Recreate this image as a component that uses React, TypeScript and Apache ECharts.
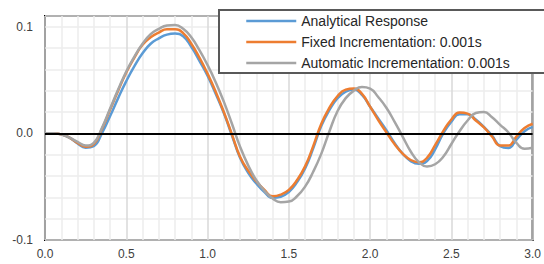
import React, { useEffect, useRef } from "react";
import * as echarts from "echarts";

const times: number[] = [
  0.0, 0.05, 0.1, 0.15, 0.2, 0.25, 0.3, 0.35, 0.4, 0.45, 0.5, 0.55, 0.6, 0.65, 0.7, 0.75, 0.8, 0.85, 0.9, 0.95,
  1.0, 1.05, 1.1, 1.15, 1.2, 1.25, 1.3, 1.35, 1.4, 1.45, 1.5, 1.55, 1.6, 1.65, 1.7, 1.75, 1.8, 1.85, 1.9, 1.95,
  2.0, 2.05, 2.1, 2.15, 2.2, 2.25, 2.3, 2.35, 2.4, 2.45, 2.5, 2.55, 2.6, 2.65, 2.7, 2.75, 2.8, 2.85, 2.9, 2.95, 3.0,
];

const analytical: number[] = [
  0, 0, -0.001, -0.004, -0.0095, -0.0135, -0.012, 0.0, 0.016, 0.033, 0.049, 0.063, 0.075, 0.084, 0.089, 0.0925, 0.0935, 0.091, 0.081, 0.068,
  0.054, 0.037, 0.019, -0.002, -0.023, -0.037, -0.047, -0.055, -0.0605, -0.0595, -0.055, -0.046, -0.033, -0.014, 0.007, 0.022, 0.033, 0.039, 0.041, 0.036,
  0.025, 0.014, 0.003, -0.009, -0.019, -0.026, -0.0285, -0.026, -0.015, 0.0, 0.011, 0.018, 0.018, 0.013, 0.006, -0.002, -0.012, -0.0138, -0.006, 0.002, 0.006,
];

const fixedInc: number[] = [
  0, 0, -0.001, -0.004, -0.009, -0.0125, -0.01, 0.004, 0.022, 0.04, 0.057, 0.071, 0.083, 0.09, 0.0945, 0.0975, 0.0975, 0.094, 0.084, 0.071,
  0.056, 0.039, 0.02, -0.001, -0.022, -0.035, -0.045, -0.053, -0.059, -0.0575, -0.053, -0.044, -0.031, -0.012, 0.009, 0.024, 0.035, 0.041, 0.042, 0.037,
  0.025, 0.0125, 0.001, -0.01, -0.019, -0.025, -0.027, -0.023, -0.011, 0.002, 0.013, 0.0195, 0.0185, 0.012, 0.0055, -0.003, -0.0115, -0.0115, -0.003, 0.005, 0.009,
];

const autoInc: number[] = [
  0, 0, -0.001, -0.004, -0.008, -0.0115, -0.009, 0.005, 0.023, 0.041, 0.058, 0.072, 0.084, 0.093, 0.098, 0.101, 0.1015, 0.098, 0.09, 0.078,
  0.064, 0.048, 0.0297, 0.009, -0.0125, -0.03, -0.044, -0.054, -0.061, -0.0645, -0.064, -0.059, -0.05, -0.036, -0.019, 0.002, 0.021, 0.033, 0.04, 0.0435,
  0.042, 0.034, 0.024, 0.011, -0.003, -0.017, -0.027, -0.031, -0.029, -0.022, -0.01, 0.002, 0.012, 0.019, 0.02, 0.015, 0.008, 0.001, -0.009, -0.0145, -0.0135,
];

const seriesNames: string[] = [
  "Analytical Response",
  "Fixed Incrementation: 0.001s",
  "Automatic Incrementation: 0.001s",
];

const FONT = "'Liberation Sans', Arial, sans-serif";

export default function App() {
  const ref = useRef<HTMLDivElement>(null);
  useEffect(() => {
    if (!ref.current) return;
    const chart = echarts.init(ref.current, undefined, { renderer: "svg" });
    const pair = (ys: number[]) => times.map((t, i) => [t, ys[i]]);
    const colors = ["#5B9BD5", "#ED7D31", "#A5A5A5"];
    const datasets = [analytical, fixedInc, autoInc];
    chart.setOption({
      animation: false,
      textStyle: { fontFamily: FONT },
      grid: {
        left: 45,
        right: 11,
        top: 16,
        bottom: 24,
        show: true,
        borderColor: "#000",
        borderWidth: 2,
        backgroundColor: "transparent",
      },
      graphic: [
        {
          type: "rect",
          z: 50,
          shape: { x: 219, y: 10, width: 340, height: 63 },
          style: { fill: "#fff", stroke: "#595959", lineWidth: 2 },
          silent: true,
        },
      ],
      legend: {
        data: seriesNames,
        orient: "vertical",
        left: 219,
        top: 10,
        z: 60,
        itemWidth: 50,
        itemHeight: 14,
        itemGap: 7,
        selectedMode: false,
        padding: [4, 10, 3, 26],
        itemStyle: { opacity: 0 },
        lineStyle: { width: 2.5 },
        textStyle: { fontSize: 14, color: "#262626", fontFamily: FONT },
      },
      xAxis: {
        type: "value",
        min: 0,
        max: 3,
        interval: 0.5,
        axisLine: { show: false },
        axisTick: { show: false },
        axisLabel: {
          formatter: (v: number) => v.toFixed(1),
          fontSize: 12,
          color: "#404040",
          margin: 8,
          fontFamily: FONT,
        },
        splitLine: { show: true, lineStyle: { color: "#d9d9d9", width: 1.5 } },
        minorTick: { show: false, splitNumber: 5 },
        minorSplitLine: { show: true, lineStyle: { color: "#ededed", width: 1.5 } },
      },
      yAxis: {
        type: "value",
        min: -0.1,
        max: 0.11,
        interval: 0.02,
        axisLine: { show: false },
        axisTick: { show: false },
        axisLabel: {
          formatter: (v: number) => {
            const r = Math.round(v * 10);
            return Math.abs(v * 10 - r) < 1e-6 ? (r / 10).toFixed(1) : "";
          },
          fontSize: 12,
          color: "#404040",
          margin: 12,
          fontFamily: FONT,
        },
        splitLine: { show: true, lineStyle: { color: "#ededed", width: 1.5 } },
      },
      series: [
        {
          name: "zero",
          type: "line",
          data: [],
          z: 1,
          silent: true,
          markLine: {
            silent: true,
            symbol: "none",
            label: { show: false },
            lineStyle: { color: "#000", width: 2, type: "solid" },
            data: [{ yAxis: 0 }],
          },
        },
        ...datasets.map((ys, i) => ({
          name: seriesNames[i],
          type: "line",
          data: pair(ys),
          smooth: 0.5,
          symbol: "none",
          z: 2 + i,
          lineStyle: { color: colors[i], width: 2.5 },
          itemStyle: { color: colors[i] },
        })),
      ],
    });
    return () => chart.dispose();
  }, []);
  return (
    <div
      ref={ref}
      style={{ position: "fixed", left: 0, top: 0, width: 544, height: 264, background: "#fff" }}
    />
  );
}
